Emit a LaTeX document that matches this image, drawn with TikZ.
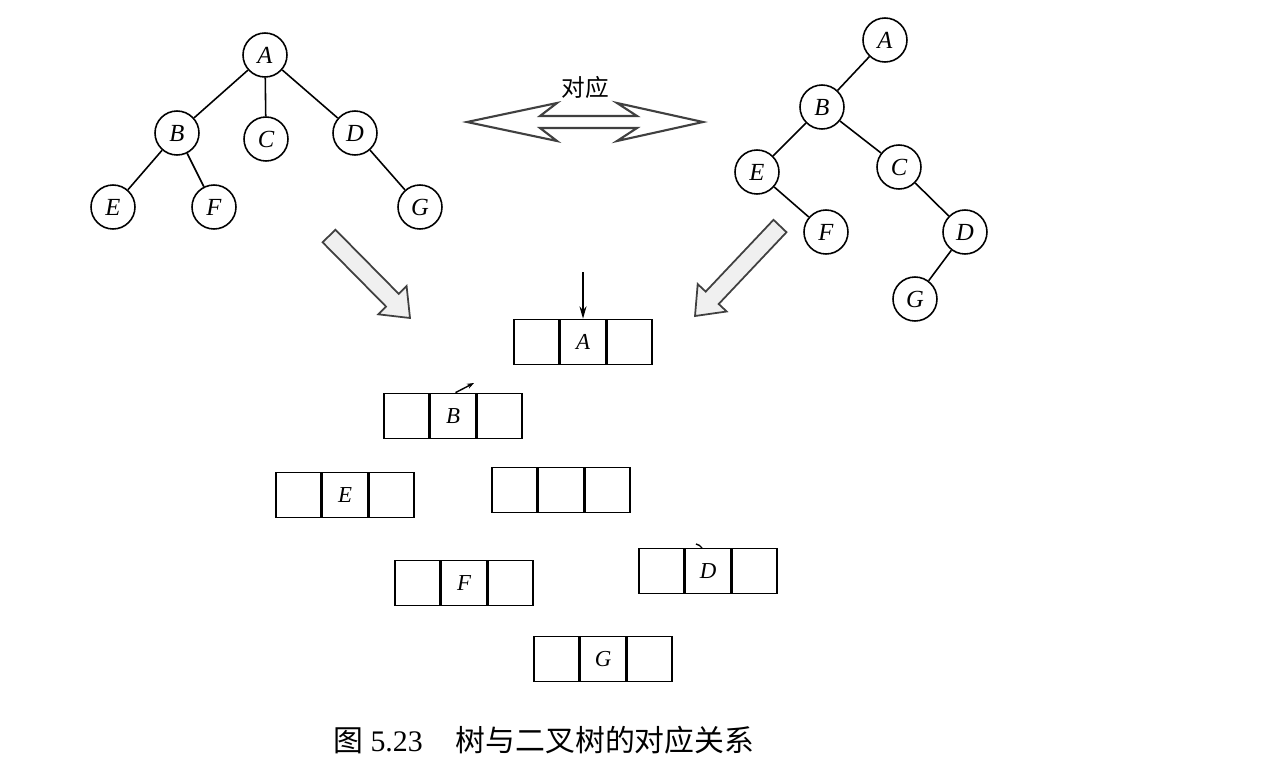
\documentclass[tikz,border=0pt]{standalone}
\usepackage{fontspec}
\setmainfont{Liberation Serif}
\newfontfamily\cjk{Noto Sans CJK SC}
\usetikzlibrary{arrows.meta}
\begin{document}
\begin{tikzpicture}[x=0.02cm,y=-0.02cm,
  tn/.style={circle,draw,line width=0.9pt,minimum size=0.88cm,inner sep=0pt,font=\fontsize{14}{14}\selectfont\itshape},
  edge/.style={line width=0.9pt},
  cell/.style={draw,line width=1pt,minimum width=0.9cm,minimum height=0.9cm,inner sep=0pt,font=\fontsize{13}{13}\selectfont\itshape},
  hollow/.style={draw=black!75,fill=black!6,line width=1pt,line join=miter}]
\useasboundingbox (0,0) rectangle (1262,782);
% left tree
\node[tn] (lA) at (265,55) {A};
\node[tn] (lB) at (177,133) {B};
\node[tn] (lC) at (266,139) {C};
\node[tn] (lD) at (355,133) {D};
\node[tn] (lE) at (113,207) {E};
\node[tn] (lF) at (214,207) {F};
\node[tn] (lG) at (420,207) {G};
\draw[edge] (lA) -- (lB);
\draw[edge] (lA) -- (lC);
\draw[edge] (lA) -- (lD);
\draw[edge] (lB) -- (lE);
\draw[edge] (lB) -- (lF);
\draw[edge] (lD) -- (lG);
% right tree
\node[tn] (rA) at (885,40) {A};
\node[tn] (rB) at (822,107) {B};
\node[tn] (rE) at (757,172) {E};
\node[tn] (rC) at (899,167) {C};
\node[tn] (rF) at (826,232) {F};
\node[tn] (rD) at (965,232) {D};
\node[tn] (rG) at (915,299) {G};
\draw[edge] (rA) -- (rB);
\draw[edge] (rB) -- (rE);
\draw[edge] (rB) -- (rC);
\draw[edge] (rE) -- (rF);
\draw[edge] (rC) -- (rD);
\draw[edge] (rD) -- (rG);
% double arrow
\draw[hollow,fill=white,line width=1.2pt] (467,122) -- (557,103) -- (540,116) -- (637,116) -- (617,103) -- (703,122)
  -- (617,141) -- (637,128) -- (540,128) -- (557,141) -- cycle;
\node[font=\cjk\fontsize{13.5}{13.5}\selectfont] (lbl) at (585,87) {对应};
% hollow arrows
\draw[hollow] (335.4,229.7) -- (398.8,293.9) -- (406.6,286.1) -- (410,318) -- (378.2,314.3) -- (386,306.5) -- (322.6,242.3) -- cycle;
\draw[hollow] (773.5,219.8) -- (705.7,291.6) -- (697.7,284.1) -- (695,316) -- (726.7,311.5) -- (718.7,304) -- (786.5,232.2) -- cycle;
% boxes
\foreach \n/\x/\y/\t in {A/583/342/A, B/453/416/B, E/345/495/E, C/561/490/{}, F/464/583/F, D/708/571/D, G/603/659/G}{
  \node[cell] (b\n) at (\x,\y) {\t};
  \node[cell,anchor=east] (b\n l) at (b\n.west) {};
  \node[cell,anchor=west] (b\n r) at (b\n.east) {};
}
\coordinate (topA) at (583,272);
\draw[line width=0.9pt,-{Stealth[length=7pt,width=4pt]}] (topA) -- (bA.north);
\coordinate (mB) at (474,383);
\draw[line width=0.8pt,-{Stealth[length=4pt,width=3pt]}] ([xshift=0.05cm]bB.north) -- (mB);
\coordinate (mD) at (702,548);
\draw[line width=0.8pt] (696,544) to[bend left=20] (mD);
% caption
\node[anchor=west,font=\fontsize{17}{17}\selectfont] (cap) at (327,740) {{\cjk 图} 5.23\hspace{1.1em}{\cjk 树与二叉树的对应关系}};
\end{tikzpicture}
\end{document}
